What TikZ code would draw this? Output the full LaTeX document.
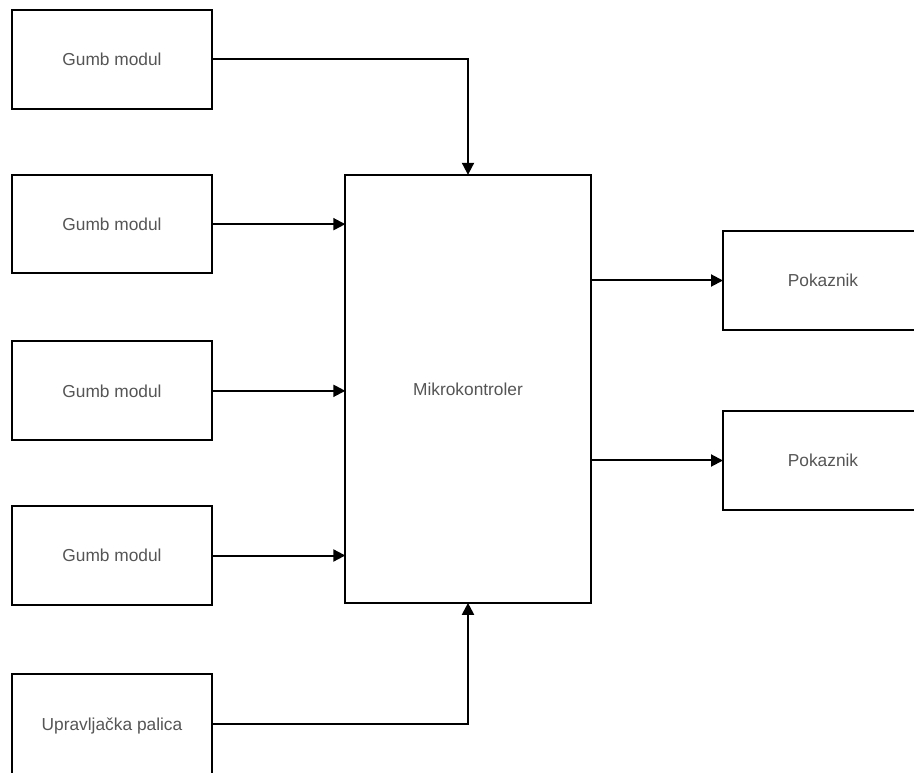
\documentclass[tikz,border=0pt]{standalone}
\usepackage{fontspec}
\setmainfont{Liberation Sans}
\usetikzlibrary{arrows.meta,positioning}
\definecolor{textgray}{RGB}{85,85,85}

\begin{document}
\begin{tikzpicture}[x=0.75pt,y=-0.75pt,>={Triangle[length=9pt,width=9pt]},line width=1.5pt,
    block/.style={draw,rectangle,outer sep=0pt,minimum width=150pt,minimum height=74pt,
      font=\fontsize{13}{15}\selectfont,text=textgray}]

          \useasboundingbox (0,0) rectangle (914,773);
          \clip (0,0) rectangle (914,773);

          \node[block] (g1) at (112,59.5) {Gumb modul};
          \node[block] (g2) [below=49.5pt of g1] {Gumb modul};
          \node[block] (g3) [below=51pt of g2] {Gumb modul};
          \node[block] (g4) [below=49.5pt of g3] {Gumb modul};
          \node[block, minimum height=78pt] (g5) [below=52pt of g4] {Upravljačka palica};

          \node[block, minimum width=184pt, minimum height=321pt] (m)
            [right=100pt of g2.north east, anchor=north west] {Mikrokontroler};

          \node[block] (p1) at (823,280.5) {Pokaznik};
          \node[block] (p2) [below=61pt of p1] {Pokaznik};

          \draw[->] (g1.east) -| (m.north);
          \draw[->] (g2.east) -- (m.west |- g2.east);
          \draw[->] (g3.east) -- (m.west |- g3.east);
          \draw[->] (g4.east) -- (m.west |- g4.east);
          \draw[->] ([yshift=1.5pt]g5.east) -| (m.south);

          \draw[->] (m.east |- p1.west) -- (p1.west);
          \draw[->] (m.east |- p2.west) -- (p2.west);
        \end{tikzpicture}
\end{document}
